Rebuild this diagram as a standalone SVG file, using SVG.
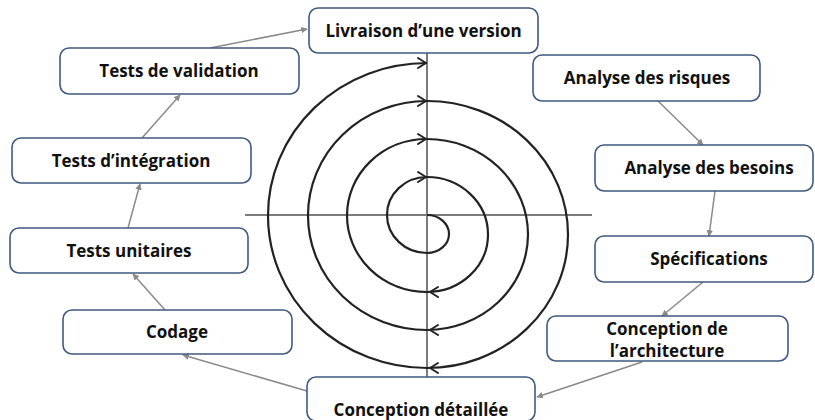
<svg xmlns="http://www.w3.org/2000/svg" width="815" height="420" viewBox="0 0 815 420">
<style>
.box{fill:#fff;stroke:#3f5a80;stroke-width:1.6}
.lbl{font-family:"Open Sans","Liberation Sans",sans-serif;font-weight:700;font-size:17px;fill:#111;text-anchor:middle}
.con{stroke:#8a8a8a;stroke-width:1.5;fill:none;marker-end:url(#ah)}
.axis{stroke:#7c7c7c;stroke-width:2;fill:none}
.sp{stroke:#222;stroke-width:2.2;fill:none}
.chev{stroke:#222;stroke-width:2;fill:none;stroke-linecap:round;stroke-linejoin:round}
</style>
<defs>
<marker id="ah" viewBox="0 0 10 10" refX="9" refY="5" markerWidth="6.5" markerHeight="6.5" markerUnits="userSpaceOnUse" orient="auto">
<path d="M0,0 L10,5 L0,10 z" fill="#8a8a8a"/>
</marker>
</defs>
<rect width="815" height="420" fill="#fff"/>
<g id="spiral">
<line class="axis" x1="245" y1="215" x2="592" y2="215"/>
<line class="axis" x1="427" y1="53" x2="427" y2="377"/>
<path class="sp" d="M427,215 A22,19 0 0 1 449,234 A22,19 0 0 1 427,253 A40,38 0 0 1 387,215 A40,38 0 0 1 427,177 A61,57.5 0 0 1 488,234.5 A61,57.5 0 0 1 427,292 A80,76.5 0 0 1 347,215.5 A80,76.5 0 0 1 427,139 A101,95.5 0 0 1 528,234.5 A101,95.5 0 0 1 427,330 A119,114.5 0 0 1 308,215.5 A119,114.5 0 0 1 427,101 A141,133.5 0 0 1 568,234.5 A141,133.5 0 0 1 427,368 A159,152.5 0 0 1 268,215.5 A159,152.5 0 0 1 427,63"/>
<polyline class="chev" points="418,58 426,63 418,68"/>
<polyline class="chev" points="418,96 426,101 418,106"/>
<polyline class="chev" points="418,134 426,139 418,144"/>
<polyline class="chev" points="418,172 426,177 418,182"/>
<polyline class="chev" points="438,287 430,292 438,297"/>
<polyline class="chev" points="438,325 430,330 438,335"/>
<polyline class="chev" points="438,363 430,368 438,373"/>
</g>
<g id="connectors">
<line class="con" x1="210" y1="48" x2="307" y2="29"/>
<line class="con" x1="142" y1="138" x2="180" y2="95"/>
<line class="con" x1="128" y1="228" x2="140" y2="184"/>
<line class="con" x1="165" y1="310" x2="133" y2="274"/>
<line class="con" x1="307" y1="391" x2="183" y2="355"/>
<line class="con" x1="642" y1="362" x2="537" y2="397"/>
<line class="con" x1="703" y1="282" x2="662" y2="316"/>
<line class="con" x1="715" y1="191" x2="709" y2="236"/>
<line class="con" x1="658" y1="101" x2="703" y2="145"/>
</g>
<g id="n-livraison"><rect class="box" x="309" y="8" width="229" height="45" rx="9"/><text class="lbl" x="423.5" y="37">Livraison d’une version</text></g>
<g id="n-validation"><rect class="box" x="60" y="48" width="239" height="46" rx="9"/><text class="lbl" x="179" y="77">Tests de validation</text></g>
<g id="n-integration"><rect class="box" x="12" y="138" width="239" height="45" rx="9"/><text class="lbl" x="131" y="167">Tests d’intégration</text></g>
<g id="n-unitaires"><rect class="box" x="10" y="228" width="238" height="45" rx="9"/><text class="lbl" x="129" y="257">Tests unitaires</text></g>
<g id="n-codage"><rect class="box" x="63" y="310" width="229" height="44" rx="9"/><text class="lbl" x="177" y="338">Codage</text></g>
<g id="n-detaillee"><rect class="box" x="307" y="377" width="228" height="44" rx="9"/><text class="lbl" x="421" y="416">Conception détaillée</text></g>
<g id="n-architecture"><rect class="box" x="547" y="316" width="241" height="45" rx="9"/><text class="lbl" x="667" y="335">Conception de</text><text class="lbl" x="667" y="357">l’architecture</text></g>
<g id="n-specifications"><rect class="box" x="595" y="236" width="218" height="46" rx="9"/><text class="lbl" x="709" y="265">Spécifications</text></g>
<g id="n-besoins"><rect class="box" x="595" y="145" width="218" height="46" rx="9"/><text class="lbl" x="709" y="174">Analyse des besoins</text></g>
<g id="n-risques"><rect class="box" x="533" y="55" width="227" height="46" rx="9"/><text class="lbl" x="647" y="84">Analyse des risques</text></g>
</svg>
